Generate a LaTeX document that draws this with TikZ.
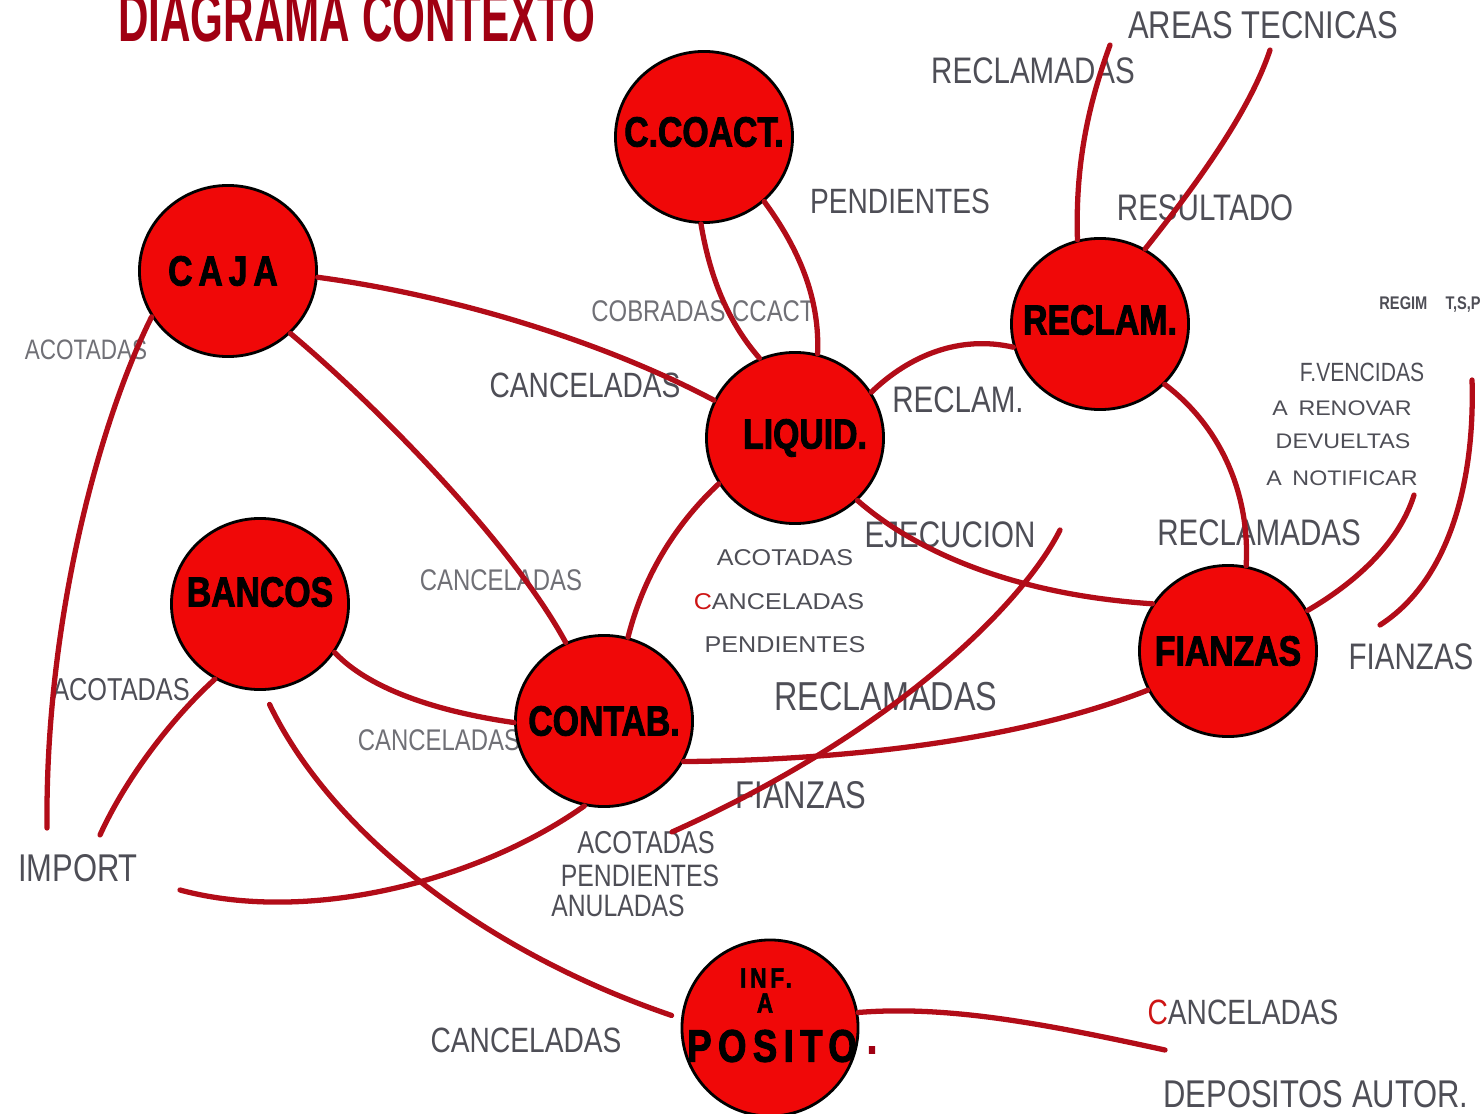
\documentclass[tikz,border=0pt]{standalone}
\usepackage{fontspec}
\usetikzlibrary{shapes.geometric}
\setmainfont{Liberation Sans}
\newfontfamily\lblfont[FakeStretch=0.8]{Liberation Sans}
\newfontfamily\widefont[FakeStretch=1.1]{Liberation Sans}
\newfontfamily\procfont[FakeStretch=0.8,FakeBold=2]{Liberation Sans Bold}
\newfontfamily\spacedfont[FakeStretch=0.8,FakeBold=2,LetterSpace=14]{Liberation Sans Bold}
\newfontfamily\titlefont[FakeStretch=0.6]{Liberation Sans Bold}
\newfontfamily\regimfont[FakeStretch=0.8]{Liberation Sans Bold}
\definecolor{ProcRed}{RGB}{240, 8, 8}
\definecolor{FlowRed}{RGB}{178, 12, 24}
\definecolor{TitleRed}{RGB}{160, 0, 18}
\definecolor{MarkRed}{RGB}{205, 20, 20}
\definecolor{LabelGray}{RGB}{78, 78, 86}
\definecolor{FaintGray}{RGB}{112, 112, 118}

\begin{document}
\begin{tikzpicture}[x=0.01cm, y=-0.01cm,
    proc/.style={ellipse, draw=black, line width=0.8pt, fill=ProcRed, minimum width=1.77cm, minimum height=1.71cm, inner sep=0pt},
    ptext/.style={font=\procfont\fontsize{12}{14}\selectfont, text=black, inner sep=0pt},
    flow/.style={draw=FlowRed, line width=1.5pt, line cap=round},
    lbl/.style={font=\lblfont\fontsize{10.5}{12}\selectfont, text=LabelGray, inner sep=0pt},
    faint/.style={font=\lblfont\fontsize{8.5}{10}\selectfont, text=FaintGray, inner sep=0pt},
    wide/.style={font=\widefont\fontsize{6.5}{8}\selectfont, text=LabelGray, inner sep=0pt}]

    \clip (0,0) rectangle (1483,1113);

    % --- TITLE ---
    \node[font=\titlefont\fontsize{20}{24}\selectfont, text=TitleRed, anchor=base, inner sep=0pt] (title) at (357,42) {DIAGRAMA CONTEXTO};

    % --- LABELS ---
    \node[lbl, font=\lblfont\fontsize{11}{13}\selectfont] (areas) at (1263,25) {AREAS TECNICAS};
    \node[lbl] (recltop) at (1033,71) {RECLAMADAS};
    \node[lbl, font=\lblfont\fontsize{10}{12}\selectfont] (pendtop) at (900,201) {PENDIENTES};
    \node[lbl] (resul) at (1205,208) {RESULTADO};
    \node[font=\regimfont\fontsize{5.2}{6}\selectfont, text=LabelGray, inner sep=0pt] (regim) at (1430,305) {REGIM\quad T,S,P};
    \node[faint] (cobr) at (703,311) {COBRADAS CCACT};
    \node[faint, font=\lblfont\fontsize{8}{10}\selectfont] (acocaja) at (86,350) {ACOTADAS};
    \node[lbl, font=\lblfont\fontsize{10}{12}\selectfont] (canliq) at (585,385) {CANCELADAS};
    \node[lbl] (reclam) at (958,400) {RECLAM.};
    \node[lbl, font=\lblfont\fontsize{7.5}{9}\selectfont] (fvenc) at (1362,372) {F.VENCIDAS};
    \node[wide, font=\widefont\fontsize{6}{7}\selectfont] (renov) at (1342,408) {A\enspace RENOVAR};
    \node[wide, font=\widefont\fontsize{6}{7}\selectfont] (devu) at (1343,441) {DEVUELTAS};
    \node[wide, font=\widefont\fontsize{6}{7}\selectfont] (notif) at (1342,478) {A\enspace NOTIFICAR};
    \node[lbl] (ejec) at (950,535) {EJECUCION};
    \node[lbl] (reclfia) at (1259,533) {RECLAMADAS};
    \node[wide] (acoliq) at (785,558) {ACOTADAS};
    \node[wide] (canliqb) at (779,602) {\textcolor{MarkRed}{C}ANCELADAS};
    \node[wide] (pendliq) at (785,645) {PENDIENTES};
    \node[faint] (cancon) at (501,580) {CANCELADAS};
    \node[lbl] (fiaout) at (1411,657) {FIANZAS};
    \node[lbl, font=\lblfont\fontsize{9}{11}\selectfont] (acoban) at (121,690) {ACOTADAS};
    \node[lbl, font=\lblfont\fontsize{11.5}{13}\selectfont] (reclcon) at (886,697) {RECLAMADAS};
    \node[faint] (canban) at (439,740) {CANCELADAS};
    \node[lbl, font=\lblfont\fontsize{11}{13}\selectfont] (fiacon) at (801,795) {FIANZAS};
    \node[lbl, font=\lblfont\fontsize{9}{11}\selectfont] (acocon) at (646,843) {ACOTADAS};
    \node[lbl, font=\lblfont\fontsize{8.8}{11}\selectfont] (pendcon) at (640,876) {PENDIENTES};
    \node[lbl, font=\lblfont\fontsize{8.8}{11}\selectfont] (anul) at (618,906) {ANULADAS};
    \node[lbl, font=\lblfont\fontsize{11}{13}\selectfont] (import) at (78,868) {IMPORT};
    \node[lbl, font=\lblfont\fontsize{10}{12}\selectfont] (candep) at (526,1040) {CANCELADAS};
    \node[lbl, font=\lblfont\fontsize{10}{12}\selectfont] (canaut) at (1243,1012) {\textcolor{MarkRed}{C}ANCELADAS};
    \node[lbl, font=\lblfont\fontsize{11}{13}\selectfont] (depaut) at (1316,1094) {DEPOSITOS AUTOR.};

    % --- PROCESSES ---
    \node[proc, label={[ptext, yshift=0.05cm]center:C.COACT.}] (cco) at (704,137) {};
    \node[proc, label={[ptext, font=\spacedfont\fontsize{12}{14}\selectfont, xshift=-0.05cm]center:CAJA}] (caja) at (228,271) {};
    \node[proc, label={[ptext, yshift=0.04cm]center:RECLAM.}] (rec) at (1100,324) {};
    \node[proc, label={[ptext, xshift=0.1cm]center:LIQUID.}] (liq) at (795,438) {};
    \node[proc, label={[ptext, yshift=0.12cm]center:BANCOS}] (ban) at (260,604) {};
    \node[proc, label={[ptext]center:CONTAB.}] (con) at (604,721) {};
    \node[proc, label={[ptext]center:FIANZAS}] (fia) at (1228,651) {};
    \node[proc, minimum width=1.76cm, minimum height=1.76cm] (dep) at (770,1028) {};
    \node[ptext, font=\spacedfont\fontsize{8}{9}\selectfont] (depinf) at (766,978) {INF.};
    \node[ptext, font=\spacedfont\fontsize{8}{9}\selectfont] (depa) at (765,1003) {A};
    \node[ptext, font=\spacedfont\fontsize{13}{15}\selectfont] (depname) at (772,1046) {POSITO};
    \node[ptext, font=\procfont\fontsize{13}{15}\selectfont, text=TitleRed] (depdot) at (872,1050) {.};

    % free ends
    \coordinate (impA) at (47,828);
    \coordinate (impB) at (100,835);
    \coordinate (impC) at (180,890);
    \coordinate (areaA) at (1110,45);
    \coordinate (areaB) at (1270,50);
    \coordinate (notifA) at (1414,495);
    \coordinate (regA) at (1472,380);
    \coordinate (regB) at (1380,625);
    \coordinate (ejeA) at (1060,530);
    \coordinate (acoA) at (672,832);
    \coordinate (depA) at (1165,1050);

    % --- FLOWS ---
    \draw[flow] (cco.268) .. controls (712,290) and (735,330) .. (liq.114);
    \draw[flow] (cco.313) .. controls (800,250) and (820,300) .. (liq.75);
    \draw[flow] (caja.356) .. controls (450,295) and (600,340) .. (liq.155);
    \draw[flow] (caja.315) .. controls (370,400) and (510,540) .. (con.116);
    \draw[flow] (caja.211) .. controls (100,420) and (45,620) .. (impA);
    \draw[flow] (liq.211) .. controls (680,520) and (645,570) .. (con.74);
    \draw[flow] (liq.31) .. controls (910,355) and (960,335) .. (rec.195);
    \draw[flow] (liq.315) .. controls (920,555) and (1020,595) .. (fia.148);
    \draw[flow] (rec.317) .. controls (1225,430) and (1250,500) .. (fia.78);
    \draw[flow] (rec.105) .. controls (1075,160) and (1090,100) .. (areaA);
    \draw[flow] (rec.59) .. controls (1200,180) and (1250,110) .. (areaB);
    \draw[flow] (fia.27) .. controls (1360,580) and (1400,540) .. (notifA);
    \draw[flow] (regA) .. controls (1475,480) and (1450,580) .. (regB);
    \draw[flow] (fia.206) .. controls (1020,740) and (850,760) .. (con.333);
    \draw[flow] (ejeA) .. controls (1025,600) and (900,730) .. (acoA);
    \draw[flow] (con.257) .. controls (480,880) and (310,925) .. (impC);
    \draw[flow] (ban.327) .. controls (370,690) and (440,712) .. (con.181);
    \draw[flow] (ban.239) .. controls (170,720) and (125,780) .. (impB);
    \draw[flow, shorten <=0.15cm, shorten >=0.1cm] (ban.272) .. controls (330,830) and (480,950) .. (dep.174);
    \draw[flow] (dep.10) .. controls (950,1005) and (1050,1025) .. (depA);

\end{tikzpicture}
\end{document}
